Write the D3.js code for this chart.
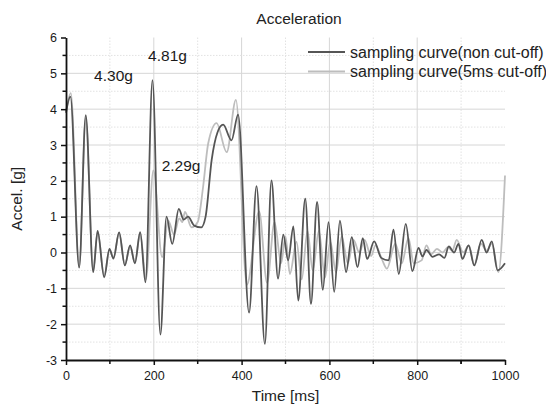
<!DOCTYPE html>
<html>
<head>
<meta charset="utf-8">
<script src="https://cdn.jsdelivr.net/npm/d3@7"></script>
<style>
  body { margin: 0; background: #fff; }
  svg { font-family: "Liberation Sans", Arial, sans-serif; }
</style>
</head>
<body>
<svg id="chart"></svg>
<script>
// sampling curve (non cut-off) - dark line
const timeRaw = [0, 10, 30, 45, 62, 72, 87, 99, 108, 121, 134, 146, 157, 169, 181, 197, 215, 229, 242, 257, 268, 278, 292, 308, 318, 332, 345, 358, 377, 392, 417, 434, 453, 468, 483, 495, 506, 518, 529, 545, 558, 572, 585, 598, 611, 624, 638, 651, 664, 676, 686, 702, 718, 735, 746, 758, 774, 789, 803, 812, 821, 835, 850, 862, 872, 884, 894, 903, 917, 930, 947, 958, 970, 983, 1000];
const accelRaw = [3.9, 4.35, -0.42, 3.83, -0.55, 0.6, -0.69, 0.1, -0.17, 0.56, -0.36, 0.2, -0.3, 0.57, -0.83, 4.81, -2.29, 1.0, 0.24, 1.22, 0.92, 1.0, 0.75, 0.7, 1.0, 2.6, 3.35, 3.57, 3.13, 3.85, -1.68, 1.85, -2.55, 2.01, -0.73, 0.5, -0.22, 0.73, -1.34, 1.5, -1.43, 1.41, -1.04, 0.85, -1.1, 0.89, -0.55, 0.43, -0.41, 0.4, -0.18, 0.31, -0.15, -0.22, 0.64, -0.6, 0.8, -0.52, 0.13, -0.11, 0.07, -0.12, -0.05, -0.15, 0.17, 0.0, 0.24, -0.18, 0.2, -0.36, 0.35, 0.0, 0.31, -0.5, -0.3];

// sampling curve (5ms cut-off) - light line
const timeCut = [0, 11, 30, 45, 62, 72, 87, 99, 108, 121, 134, 146, 157, 169, 182, 199, 219, 233, 246, 258, 265, 271, 286, 300, 312, 324, 343, 366, 387, 412, 440, 458, 475, 490, 500, 510, 525, 537, 550, 562, 576, 590, 602, 615, 628, 642, 655, 668, 680, 695, 705, 720, 731, 750, 765, 780, 792, 810, 821, 832, 845, 858, 870, 880, 890, 905, 918, 930, 945, 958, 970, 985, 1000];
const accelCut = [3.95, 4.45, -0.4, 3.75, -0.5, 0.58, -0.66, 0.08, -0.15, 0.55, -0.35, 0.18, -0.28, 0.55, -0.75, 2.29, -0.13, 0.89, 0.5, 0.95, 0.85, 1.13, 0.7, 0.85, 1.8, 3.05, 3.61, 2.8, 4.26, -0.9, 1.15, -0.85, 0.85, -0.3, 0.45, -0.6, 0.3, -0.75, 0.6, -0.5, 0.6, -0.7, 0.3, -0.55, 0.45, -0.3, 0.35, 0.0, 0.35, -0.1, 0.2, -0.2, -0.45, 0.25, -0.3, 0.4, -0.3, -0.22, 0.2, -0.05, 0.1, 0.0, 0.15, 0.05, 0.35, 0.0, 0.2, -0.36, 0.25, 0.05, 0.25, -0.55, 2.15];

const seriesNames = ['sampling curve(non cut-off)', 'sampling curve(5ms cut-off)'];

// peak labels, anchored in data units
const peakLabels = ['4.30g', '4.81g', '2.29g'];
const peakLabelTime = [64, 187, 218];
const peakLabelAccel = [4.79, 5.35, 2.28];

const xTicks = [0, 200, 400, 600, 800, 1000];
const yTicks = [-3, -2, -1, 0, 1, 2, 3, 4, 5, 6];

class LineChart {

  constructor(_config) {
    this.config = {
      parentElement: _config.parentElement,
      containerWidth: 546,
      containerHeight: 407,
      margin: {
        top: 37.5,
        right: 41,
        bottom: 47,
        left: 66
      }
    }
    this.initVis();
  }

  initVis() {
    let vis = this;
    vis.width = vis.config.containerWidth - vis.config.margin.left - vis.config.margin.right;
    vis.height = vis.config.containerHeight - vis.config.margin.top - vis.config.margin.bottom;

    vis.svg = d3.select(vis.config.parentElement)
      .attr('width', vis.config.containerWidth)
      .attr('height', vis.config.containerHeight);

    vis.chartArea = vis.svg.append('g')
      .attr('transform', `translate(${vis.config.margin.left},${vis.config.margin.top})`);

    vis.xScale = d3.scaleLinear()
      .domain([0, 1000])
      .range([0, vis.width]);

    vis.yScale = d3.scaleLinear()
      .domain([-3, 6])
      .range([vis.height, 0]);

    // grid: major solid, minor dotted
    vis.gridG = vis.chartArea.append('g').attr('class', 'grid');

    vis.linesG = vis.chartArea.append('g');

    vis.xAxisG = vis.chartArea.append('g')
      .attr('class', 'axis x-axis')
      .attr('transform', `translate(0,${vis.height})`);

    vis.yAxisG = vis.chartArea.append('g')
      .attr('class', 'axis y-axis');

    vis.svg.append('text')
      .attr('x', 299)
      .attr('y', 24)
      .attr('text-anchor', 'middle')
      .style('font-size', '15.5px')
      .attr('fill', '#222')
      .text('Acceleration');

    vis.svg.append('text')
      .attr('x', vis.config.margin.left + vis.width / 2)
      .attr('y', 401)
      .attr('text-anchor', 'middle')
      .style('font-size', '15.5px')
      .attr('fill', '#222')
      .text('Time [ms]');

    vis.svg.append('text')
      .attr('transform', `translate(22,${vis.config.margin.top + vis.height / 2}) rotate(-90)`)
      .attr('text-anchor', 'middle')
      .style('font-size', '15.5px')
      .attr('fill', '#222')
      .text('Accel. [g]');
  }

  updateVis() {
    let vis = this;
    vis.data = [
      { name: seriesNames[0], color: '#555555', points: timeRaw.map((t, i) => ({ t: t, v: accelRaw[i] })) },
      { name: seriesNames[1], color: '#bdbdbd', points: timeCut.map((t, i) => ({ t: t, v: accelCut[i] })) }
    ];
    vis.renderVis();
  }

  renderVis() {
    let vis = this;

    const majorX = d3.range(200, 1000, 200);
    const minorX = d3.range(100, 1000, 200);
    const majorY = yTicks.filter(d => d > -3 && d < 6);
    const minorY = d3.range(-2.5, 6, 1);

    vis.gridG.selectAll('.gx-major')
      .data(majorX)
      .join('line')
      .attr('class', 'gx-major')
      .attr('x1', d => vis.xScale(d)).attr('x2', d => vis.xScale(d))
      .attr('y1', 0).attr('y2', vis.height)
      .attr('stroke', '#d6d6d6');

    vis.gridG.selectAll('.gx-minor')
      .data(minorX)
      .join('line')
      .attr('class', 'gx-minor')
      .attr('x1', d => vis.xScale(d)).attr('x2', d => vis.xScale(d))
      .attr('y1', 0).attr('y2', vis.height)
      .attr('stroke', '#e2e2e2')
      .attr('stroke-dasharray', '1.5,1.5');

    vis.gridG.selectAll('.gy-major')
      .data(majorY)
      .join('line')
      .attr('class', 'gy-major')
      .attr('x1', 0).attr('x2', vis.width)
      .attr('y1', d => vis.yScale(d)).attr('y2', d => vis.yScale(d))
      .attr('stroke', '#d6d6d6');

    vis.gridG.selectAll('.gy-minor')
      .data(minorY)
      .join('line')
      .attr('class', 'gy-minor')
      .attr('x1', 0).attr('x2', vis.width)
      .attr('y1', d => vis.yScale(d)).attr('y2', d => vis.yScale(d))
      .attr('stroke', '#e2e2e2')
      .attr('stroke-dasharray', '1.5,1.5');

    const line = d3.line()
      .x(d => vis.xScale(d.t))
      .y(d => vis.yScale(d.v))
      .curve(d3.curveMonotoneX);

    // light curve underneath, dark on top
    vis.linesG.selectAll('.series')
      .data(vis.data.slice().reverse())
      .join('path')
      .attr('class', 'series')
      .attr('fill', 'none')
      .attr('stroke', d => d.color)
      .attr('stroke-width', 1.8)
      .attr('stroke-linejoin', 'round')
      .attr('d', d => line(d.points));

    // axes (plain hyphen for negatives, as in the original)
    vis.xAxisG.call(d3.axisBottom(vis.xScale).tickValues(xTicks).tickFormat(d => String(d))
      .tickSize(5).tickSizeOuter(0).tickPadding(6));
    vis.yAxisG.call(d3.axisLeft(vis.yScale).tickValues(yTicks).tickFormat(d => String(d))
      .tickSize(5).tickSizeOuter(0).tickPadding(4));

    vis.xAxisG.append('g').selectAll('line')
      .data(minorX.concat([900]))
      .join('line')
      .attr('x1', d => vis.xScale(d)).attr('x2', d => vis.xScale(d))
      .attr('y1', 0).attr('y2', 4)
      .attr('stroke', '#111').attr('stroke-width', 1.5);

    vis.yAxisG.append('g').selectAll('line')
      .data(d3.range(-2.5, 6, 1))
      .join('line')
      .attr('x1', -3.5).attr('x2', 0)
      .attr('y1', d => vis.yScale(d)).attr('y2', d => vis.yScale(d))
      .attr('stroke', '#111').attr('stroke-width', 1.5);

    [vis.xAxisG, vis.yAxisG].forEach(g => {
      g.select('.domain').attr('stroke', '#111').attr('stroke-width', 1.8);
      g.selectAll('.tick line').attr('stroke', '#111').attr('stroke-width', 1.5);
      g.selectAll('text')
        .attr('fill', '#1a1a1a')
        .style('font-size', '12.5px')
        .style('font-family', '"Liberation Sans", Arial, sans-serif');
    });

    // peak annotations
    vis.chartArea.selectAll('.peak-label')
      .data(peakLabels)
      .join('text')
      .attr('class', 'peak-label')
      .attr('x', (d, i) => vis.xScale(peakLabelTime[i]))
      .attr('y', (d, i) => vis.yScale(peakLabelAccel[i]))
      .style('font-size', '15.5px')
      .attr('fill', '#1a1a1a')
      .text(d => d);

    // legend
    const legend = vis.svg.append('g')
      .attr('transform', 'translate(308,52)');
    const items = legend.selectAll('g')
      .data(vis.data)
      .join('g')
      .attr('transform', (d, i) => `translate(0,${i * 19.5})`);
    items.append('line')
      .attr('x1', 0).attr('x2', 37)
      .attr('stroke', d => d.color)
      .attr('stroke-width', 1.8);
    items.append('text')
      .attr('x', 42)
      .attr('y', 5.5)
      .style('font-size', '16px')
      .attr('fill', '#222')
      .text(d => d.name);
  }
}

const chart = new LineChart({ parentElement: '#chart' });
chart.updateVis();
</script>
</body>
</html>
